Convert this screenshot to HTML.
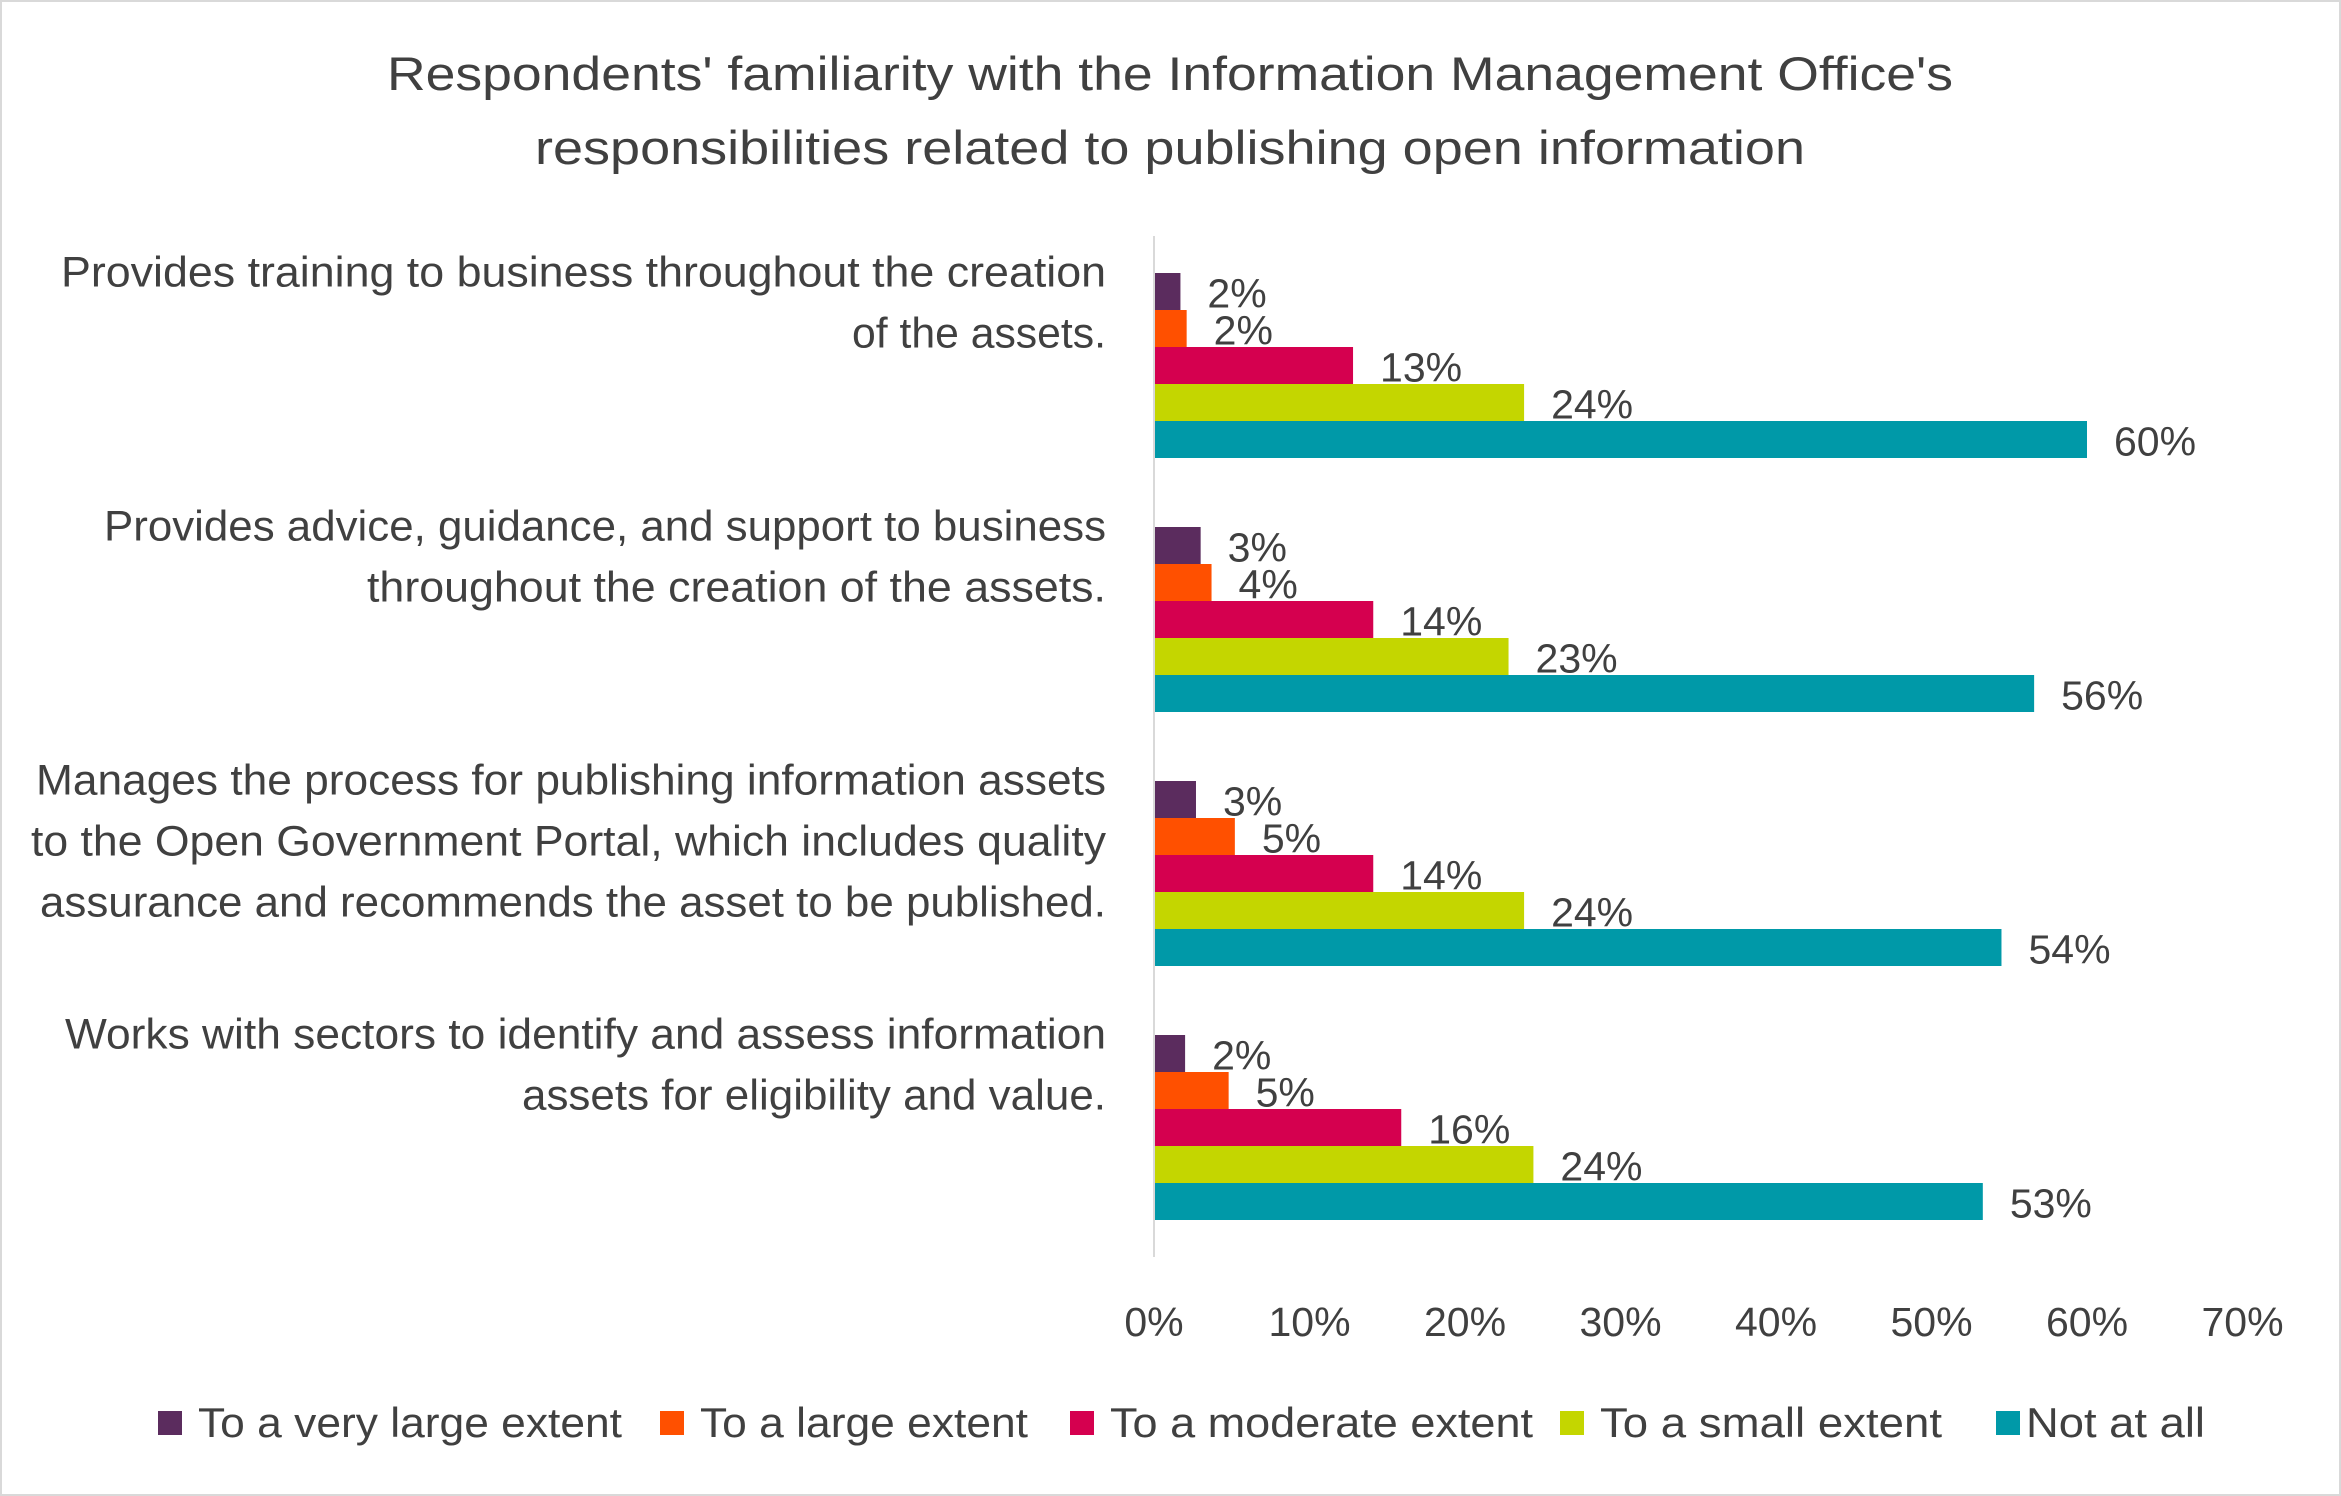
<!DOCTYPE html>
<html><head><meta charset="utf-8"><style>
html,body{margin:0;padding:0;background:#fff}
svg{display:block}
text{font-family:"Liberation Sans",sans-serif;fill:#404040}
</style></head><body>
<svg id="chart" width="2341" height="1496" viewBox="0 0 2341 1496" xmlns="http://www.w3.org/2000/svg">
<rect x="1" y="1" width="2339" height="1494" fill="#fff" stroke="#d9d9d9" stroke-width="2"/>
<g>
<text x="1170" y="90" text-anchor="middle" font-size="47" textLength="1566" lengthAdjust="spacingAndGlyphs">Respondents' familiarity with the Information Management Office's</text>
<text x="1170" y="164" text-anchor="middle" font-size="47" textLength="1270" lengthAdjust="spacingAndGlyphs">responsibilities related to publishing open information</text>
</g>
<g id="plot"></g>
<g id="legend"></g>
</svg>
<script>
const categories = [
 ["Provides training to business throughout the creation","of the assets."],
 ["Provides advice, guidance, and support to business","throughout the creation of the assets."],
 ["Manages the process for publishing information assets","to the Open Government Portal, which includes quality","assurance and recommends the asset to be published."],
 ["Works with sectors to identify and assess information","assets for eligibility and value."]
];
const seriesNames = ["To a very large extent","To a large extent","To a moderate extent","To a small extent","Not at all"];
const seriesColors = ["#5B2C5E","#FF5000","#D5004F","#C4D600","#0099A8"];
const veryLarge = [1.7, 3.0, 2.7, 2.0];
const large = [2.1, 3.7, 5.2, 4.8];
const moderate = [12.8, 14.1, 14.1, 15.9];
const small = [23.8, 22.8, 23.8, 24.4];
const notAtAll = [60.0, 56.6, 54.5, 53.3];
const barLabels = [["2%","2%","13%","24%","60%"],["3%","4%","14%","23%","56%"],["3%","5%","14%","24%","54%"],["2%","5%","16%","24%","53%"]];
const ticks = [0,10,20,30,40,50,60,70];
const series = [veryLarge, large, moderate, small, notAtAll];
const catLineW = [[1045,254],[1002,739],[1070,1075,1066],[1041,584]];

const NS = "http://www.w3.org/2000/svg";
const x0 = 1154, pxPer = 155.5/10;
const xScale = v => x0 + v*pxPer;
const bandTop = 238.5, band = 254, barH = 37, pad = 34.5;
const yBar = (c, s) => bandTop + c*band + pad + s*barH;
const plot = document.getElementById('plot');
function mk(tag, attrs, parent){const e=document.createElementNS(NS,tag);for(const k in attrs)e.setAttribute(k,attrs[k]);(parent||plot).appendChild(e);return e;}

const axis = mk('line',{x1:x0,x2:x0,y1:236,y2:1257,stroke:'#d9d9d9','stroke-width':2});



categories.forEach((lines,c)=>{
  const startY = bandTop + c*band + 37 + 11;
  lines.forEach((ln,i)=>{
    const t = mk('text',{x:1106,y:startY + i*61,'text-anchor':'end','font-size':43,textLength:catLineW[c][i],lengthAdjust:'spacingAndGlyphs'});
    t.textContent = ln;
    
    
  });
  series.forEach((arr,s)=>{
    const y = yBar(c,s);
    const r = mk('rect',{x:x0+1,y:y,width:Math.max(0,xScale(arr[c])-x0-1),height:barH,fill:seriesColors[s]});
    
    
    const t = mk('text',{x:xScale(arr[c])+27,y:y+barH/2+16,'font-size':41});
    t.textContent = barLabels[c][s];
    
    
  });
});

ticks.forEach(v=>{
  const t = mk('text',{x:xScale(v),y:1336,'text-anchor':'middle','font-size':41});
  t.textContent = v+'%';
  
  
});

const legend = document.getElementById('legend');
const legX = [158, 660, 1070, 1560, 1996];
const legW = [424, 328, 423, 342, 179];
const legGap = [40, 40, 40, 40, 30];
seriesNames.forEach((nm,i)=>{
  const g = mk('g',{},legend);
  
  
  mk('rect',{x:legX[i],y:1411,width:24,height:24,fill:seriesColors[i]},g);
  const t = mk('text',{x:legX[i]+legGap[i],y:1437,'font-size':42,textLength:legW[i],lengthAdjust:'spacingAndGlyphs'},g);
  t.textContent = nm;
});
</script>
</body></html>
